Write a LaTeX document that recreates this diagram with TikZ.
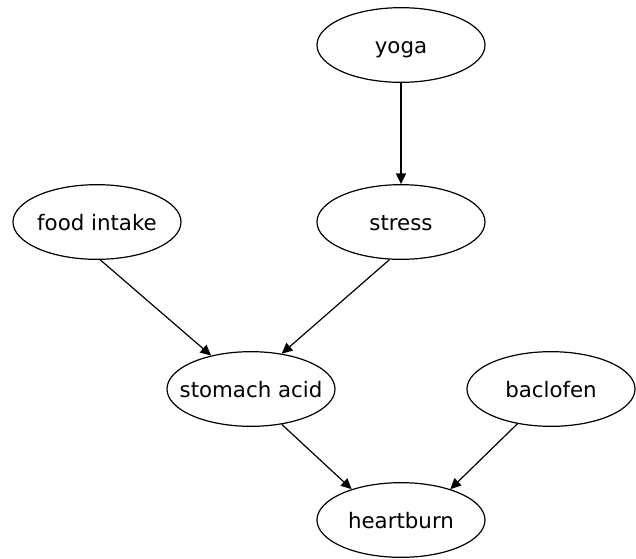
\documentclass[tikz,border=0pt]{standalone}
\usepackage{fontspec}
\setmainfont{DejaVu Sans}
\usetikzlibrary{shapes.geometric,arrows.meta}
\begin{document}
\begin{tikzpicture}[x=0.75pt,y=-0.75pt,
  var/.style={ellipse,draw,line width=0.9pt,minimum width=126pt,minimum height=56pt,inner xsep=-16pt,inner ysep=0pt,text height=15pt,text depth=3pt,font=\fontsize{16}{19}\selectfont},
  edge/.style={line width=0.9pt,-{Triangle[length=8pt,width=7.5pt]}}]
\useasboundingbox (0,0) rectangle (636,558);
\node[var] (yoga) at (401,45) {yoga};
\node[var] (stress) at (401,222) {stress};
\node[var] (food) at (97,222) {food intake};
\node[var] (sa) at (251,389) {stomach acid};
\node[var] (bac) at (551,389) {baclofen};
\node[var] (hb) at (401,520) {heartburn};
\draw[edge] (yoga.south) -- (stress.north);
\draw[edge] (food.275) -- (sa.140);
\draw[edge] (stress.253) -- (sa.49.5);
\draw[edge] (sa.311.5) -- (hb.148.5);
\draw[edge] (bac.226) -- (hb.32.5);
\end{tikzpicture}
\end{document}
